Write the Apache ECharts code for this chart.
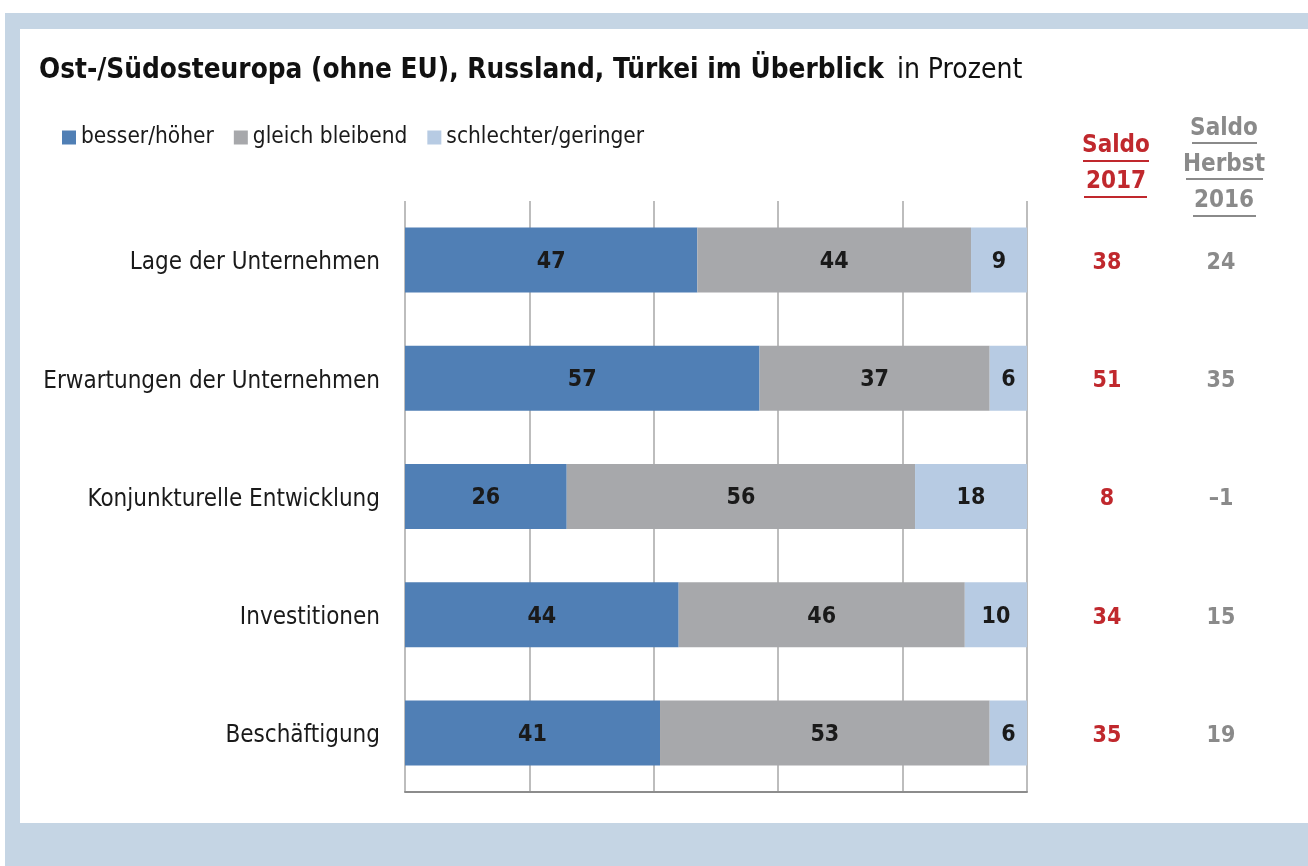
<!DOCTYPE html>
<html>
<head>
<meta charset="utf-8">
<script src="https://cdn.jsdelivr.net/npm/echarts@6/dist/echarts.min.js"></script>
<style>
  html, body { margin: 0; padding: 0; background: #ffffff; }
  #frame { position: absolute; left: 5px; top: 13px; width: 1303px; height: 853px; background: #c5d5e4; }
  #panel { position: absolute; left: 20px; top: 29px; width: 1288px; height: 794px; background: #ffffff; }
  #chart { position: absolute; left: 0; top: 0; width: 1308px; height: 866px; }
</style>
</head>
<body>
<div id="frame"></div>
<div id="panel"></div>
<div id="chart"></div>
<script>
const categories = ['Lage der Unternehmen', 'Erwartungen der Unternehmen', 'Konjunkturelle Entwicklung', 'Investitionen', 'Beschäftigung'];
const besser = [47, 57, 26, 44, 41];
const gleich = [44, 37, 56, 46, 53];
const schlechter = [9, 6, 18, 10, 6];
const saldo2017 = [38, 51, 8, 34, 35];
const saldoHerbst2016 = [24, 35, -1, 15, 19];
const seriesNames = ['besser/höher', 'gleich bleibend', 'schlechter/geringer'];
const xTicks = [0, 20, 40, 60, 80, 100];

const FONT = '"DejaVu Sans Condensed", "DejaVu Sans", sans-serif';
const fmtNum = v => String(v).replace('-', '\u2013');

const chart = echarts.init(document.getElementById('chart'), null, { renderer: 'canvas' });

function barSeries(name, data, color) {
  return {
    name: name, type: 'bar', stack: 'total', data: data, barWidth: 65,
    itemStyle: { color: color },
    label: { show: true, position: 'inside', color: '#1a1a1a', fontFamily: FONT, fontSize: 23, fontWeight: 'bold', offset: [0, 2] },
    emphasis: { disabled: true }, silent: true, animation: false
  };
}

function hdr(text, x, y, color) {
  return { type: 'text', x: x, y: y, style: { text: text, fontFamily: FONT, fontSize: 24, fontWeight: 'bold', fill: color, align: 'center', verticalAlign: 'top' } };
}
function uline(x1, x2, y, color) {
  return { type: 'line', shape: { x1: x1, y1: y, x2: x2, y2: y }, style: { stroke: color, lineWidth: 2 } };
}

const RED = '#c0282d';
const GREY = '#8a8a8a';

const option = {
  animation: false,
  textStyle: { fontFamily: FONT },
  title: {
    left: 34, top: 52,
    text: '{b|Ost-/Südosteuropa (ohne EU), Russland, Türkei im Überblick}{r| in Prozent}',
    textStyle: {
      rich: {
        b: { fontFamily: FONT, fontSize: 27.7, fontWeight: 'bold', color: '#111111' },
        r: { fontFamily: FONT, fontSize: 28, fontWeight: 'normal', color: '#111111', padding: [0, 0, 0, 5] }
      }
    }
  },
  legend: {
    left: 57, top: 121, icon: 'rect', itemWidth: 14, itemHeight: 14, itemGap: 20,
    data: seriesNames,
    textStyle: { fontFamily: FONT, fontSize: 22.5, color: '#1a1a1a', padding: [0, 0, 0, 0] },
    selectedMode: false
  },
  grid: { left: 405, right: 281, top: 201, bottom: 74, containLabel: false },
  xAxis: {
    type: 'value', min: xTicks[0], max: xTicks[xTicks.length - 1], interval: 20,
    axisLabel: { show: false }, axisTick: { show: false },
    axisLine: { show: true, lineStyle: { color: '#8c8c8c', width: 2 } },
    splitLine: { show: true, lineStyle: { color: '#bdbdbd', width: 2 } }
  },
  yAxis: [
    {
      type: 'category', data: categories, inverse: true,
      axisLine: { show: false }, axisTick: { show: false },
      axisLabel: { fontFamily: FONT, fontSize: 24, color: '#1a1a1a', margin: 25, verticalAlign: 'top', lineHeight: 6 }
    },
    {
      type: 'category', data: categories, inverse: true, position: 'right',
      axisLine: { show: false }, axisTick: { show: false },
      axisLabel: { fontFamily: FONT, fontSize: 23, fontWeight: 'bold', color: RED, margin: 80, align: 'center', verticalAlign: 'top', lineHeight: 6,
        formatter: (v, i) => fmtNum(saldo2017[i]) }
    },
    {
      type: 'category', data: categories, inverse: true, position: 'right',
      axisLine: { show: false }, axisTick: { show: false },
      axisLabel: { fontFamily: FONT, fontSize: 23, fontWeight: 'bold', color: GREY, margin: 194, align: 'center', verticalAlign: 'top', lineHeight: 6,
        formatter: (v, i) => fmtNum(saldoHerbst2016[i]) }
    }
  ],
  series: [
    barSeries(seriesNames[0], besser, '#507fb5'),
    barSeries(seriesNames[1], gleich, '#a7a8ab'),
    barSeries(seriesNames[2], schlechter, '#b7cbe3')
  ],
  graphic: [
    hdr('Saldo', 1116, 134, RED),
    hdr('2017', 1116, 170, RED),
    uline(1083, 1149, 161, RED),
    uline(1084, 1147, 197, RED),
    hdr('Saldo', 1224, 117, GREY),
    hdr('Herbst', 1224, 153, GREY),
    hdr('2016', 1224, 189, GREY),
    uline(1192, 1257, 143, GREY),
    uline(1186, 1263, 179, GREY),
    uline(1193, 1256, 216, GREY)
  ]
};
chart.setOption(option);
</script>
</body>
</html>
